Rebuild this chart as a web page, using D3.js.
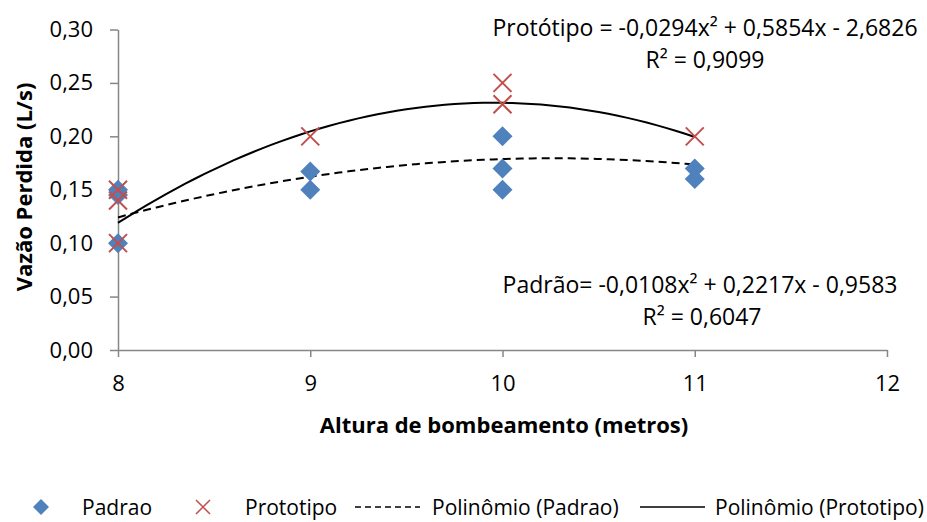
<!DOCTYPE html>
<meta charset="utf-8">
<style>
body { margin: 0; background: #fff; }
svg text { font-family: "Open Sans", "Noto Sans", sans-serif; fill: #000; }
.axis path, .axis line { stroke: #868686; stroke-width: 1.5; }
.axis text { font-size: 22px; }
.title { font-size: 22px; font-weight: bold; }
.eq { font-size: 23px; }
.legend text { font-size: 21px; }
</style>
<script src="https://d3js.org/d3.v7.min.js"></script>
<div id="chart"></div>
<script>
// data
var padraoX = [8, 8, 8, 9, 9, 10, 10, 10, 11, 11];
var padraoY = [0.15, 0.145, 0.10, 0.167, 0.15, 0.20, 0.17, 0.15, 0.17, 0.16];
var protoX = [8, 8, 8, 9, 10, 10, 11];
var protoY = [0.15, 0.14, 0.10, 0.20, 0.25, 0.23, 0.20];
// trend line coefficients (a, b, c) of a*x^2 + b*x + c, as printed on the chart
var padraoFit = [-0.0108, 0.2217, -0.9583];
var protoFit = [-0.0294, 0.5854, -2.6826];
var padraoR2 = "0,6047";
var protoR2 = "0,9099";
var xTicks = [8, 9, 10, 11, 12];
var yTicks = [0, 0.05, 0.10, 0.15, 0.20, 0.25, 0.30];
var legendLabels = ["Padrao", "Prototipo", "Polinômio (Padrao)", "Polinômio (Prototipo)"];

var width = 927, height = 522;
var svg = d3.select("#chart").append("svg")
  .attr("width", width)
  .attr("height", height);

var x = d3.scaleLinear().domain([8, 12]).range([118, 887]);
var y = d3.scaleLinear().domain([0, 0.30]).range([350, 29.5]);
var fmt = function(d) { return d3.format(".2f")(d).replace(".", ","); };
function fmt4(v) { return d3.format(".4f")(v).replace(".", ",").replace("−", "-"); }

// axes
svg.append("g")
  .attr("class", "axis")
  .attr("transform", "translate(0," + y(0) + ")")
  .call(d3.axisBottom(x).tickValues(xTicks).tickSize(7).tickSizeOuter(0).tickPadding(18).tickFormat(d3.format("d")))
  .call(function(g) { g.selectAll("text").attr("fill", "#000"); });

svg.append("g")
  .attr("class", "axis")
  .attr("transform", "translate(" + x(8) + ",0)")
  .call(d3.axisLeft(y).tickValues(yTicks).tickSize(8).tickSizeOuter(0).tickPadding(17).tickFormat(fmt))
  .call(function(g) { g.selectAll("text").attr("fill", "#000"); });

// axis titles
svg.append("text")
  .attr("class", "title")
  .attr("x", 504).attr("y", 433)
  .attr("text-anchor", "middle")
  .text("Altura de bombeamento (metros)");

svg.append("text")
  .attr("class", "title")
  .attr("transform", "translate(32,187) rotate(-90)")
  .attr("text-anchor", "middle")
  .text("Vazão Perdida (L/s)");

// trend lines
function poly(c) {
  return d3.range(8, 11.0001, 0.05).map(function(v) {
    return [v, c[0] * v * v + c[1] * v + c[2]];
  });
}
var line = d3.line()
  .x(function(d) { return x(d[0]); })
  .y(function(d) { return y(d[1]); })
  .curve(d3.curveMonotoneX);

svg.append("path")
  .datum(poly(padraoFit))
  .attr("d", line)
  .attr("fill", "none")
  .attr("stroke", "#000")
  .attr("stroke-width", 2)
  .attr("stroke-dasharray", "8,5");

svg.append("path")
  .datum(poly(protoFit))
  .attr("d", line)
  .attr("fill", "none")
  .attr("stroke", "#000")
  .attr("stroke-width", 2);

// markers
var diamond = "M0,-10L10,0L0,10L-10,0Z";
var cross = "M-9,-9L9,9M-9,9L9,-9";

svg.selectAll(".pad")
  .data(padraoX.map(function(v, i) { return [v, padraoY[i]]; }))
  .enter().append("path")
  .attr("class", "pad")
  .attr("d", diamond)
  .attr("fill", "#4F81BD")
  .attr("transform", function(d) { return "translate(" + x(d[0]) + "," + y(d[1]) + ")"; });

svg.selectAll(".pro")
  .data(protoX.map(function(v, i) { return [v, protoY[i]]; }))
  .enter().append("path")
  .attr("class", "pro")
  .attr("d", cross)
  .attr("fill", "none")
  .attr("stroke", "#C0504D")
  .attr("stroke-width", 2)
  .attr("transform", function(d) { return "translate(" + x(d[0]) + "," + y(d[1]) + ")"; });

// equations
function eq(cx, cy, str) {
  svg.append("text").attr("class", "eq").attr("x", cx).attr("y", cy)
    .attr("text-anchor", "middle").text(str);
}
eq(705, 36, "Protótipo = " + fmt4(protoFit[0]) + "x² + " + fmt4(protoFit[1]) + "x - " + fmt4(-protoFit[2]));
eq(705, 68, "R² = " + protoR2);
eq(700, 293, "Padrão= " + fmt4(padraoFit[0]) + "x² + " + fmt4(padraoFit[1]) + "x - " + fmt4(-padraoFit[2]));
eq(702, 325, "R² = " + padraoR2);

// legend
var lg = svg.append("g").attr("class", "legend");
var ly = 507;
lg.append("path").attr("d", "M0,-8L8,0L0,8L-8,0Z").attr("fill", "#4F81BD")
  .attr("transform", "translate(41," + ly + ")");
lg.append("text").attr("x", 82).attr("y", ly + 8).text(legendLabels[0]);
lg.append("path").attr("d", "M-7,-7L7,7M-7,7L7,-7").attr("stroke", "#C0504D").attr("stroke-width", 1.5)
  .attr("transform", "translate(203," + ly + ")");
lg.append("text").attr("x", 245).attr("y", ly + 8).text(legendLabels[1]);
lg.append("line").attr("x1", 355).attr("x2", 420).attr("y1", ly).attr("y2", ly)
  .attr("stroke", "#000").attr("stroke-width", 1.5).attr("stroke-dasharray", "6,4");
lg.append("text").attr("x", 432).attr("y", ly + 8).text(legendLabels[2]);
lg.append("line").attr("x1", 640).attr("x2", 705).attr("y1", ly).attr("y2", ly)
  .attr("stroke", "#000").attr("stroke-width", 1.5);
lg.append("text").attr("x", 715).attr("y", ly + 8).text(legendLabels[3]);
</script>
